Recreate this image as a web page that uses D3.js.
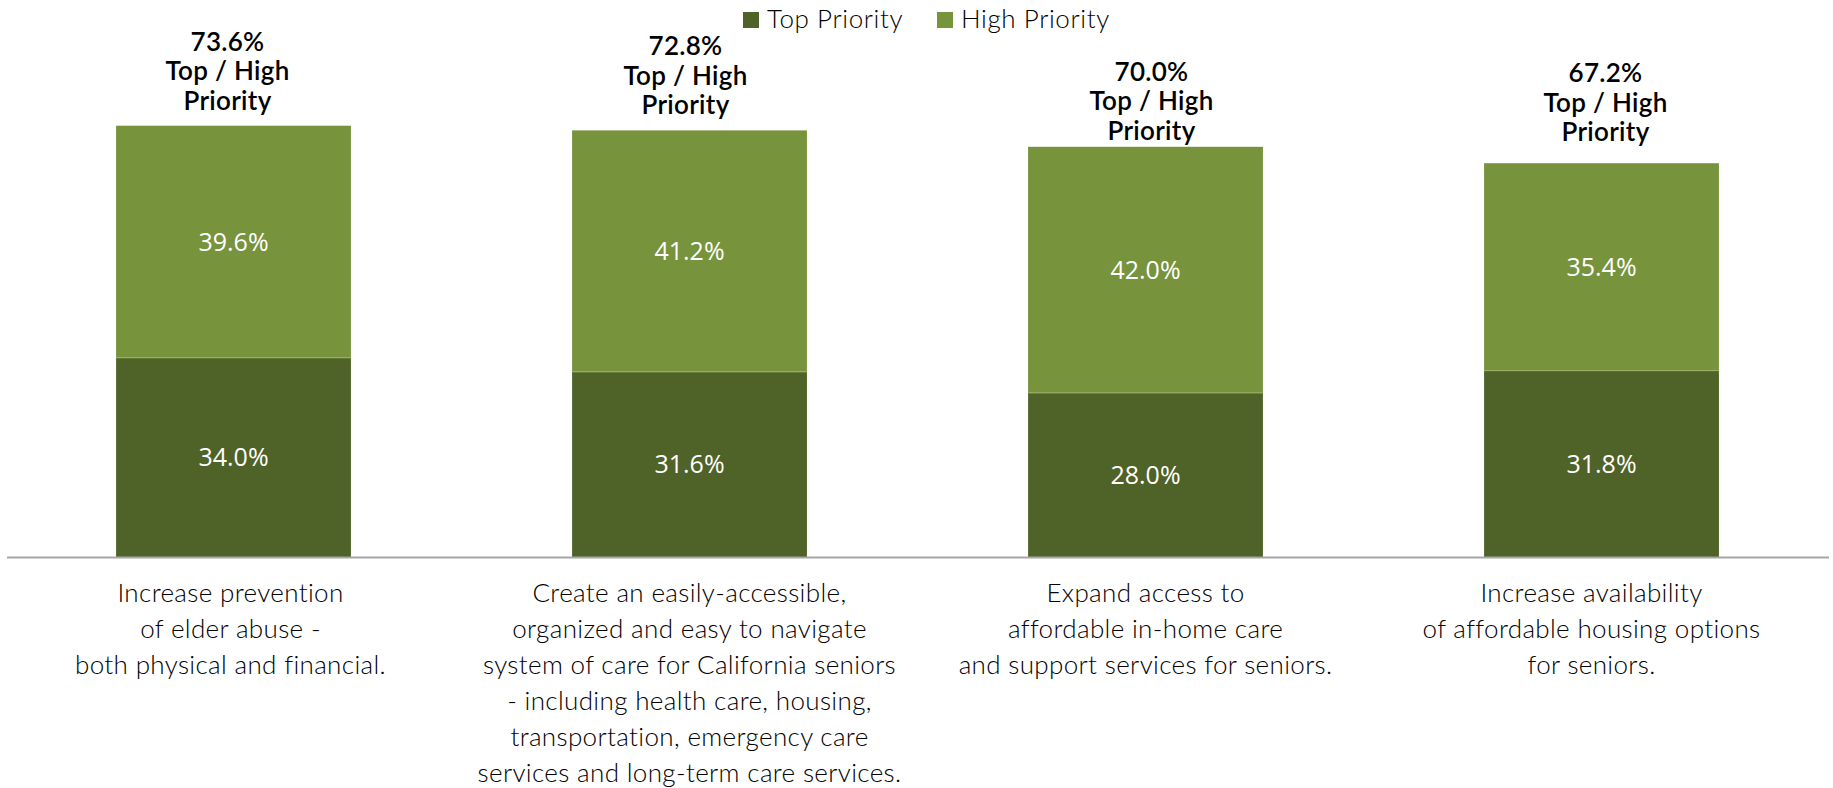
<!DOCTYPE html>
<html>
<head>
<meta charset="utf-8">
<script src="https://cdn.jsdelivr.net/npm/d3@7"></script>
<style>
  body { margin: 0; background: #fff; }
  svg { display: block; }
</style>
</head>
<body>
<svg id="chart" width="1833" height="788"></svg>
<script>

// Chart data
var categories = [
  "Increase prevention of elder abuse",
  "Create an easily-accessible system of care",
  "Expand access to in-home care",
  "Increase availability of affordable housing"
];
var categoryLines = [
  ["Increase prevention", "of elder abuse -", "both physical and financial."],
  ["Create an easily-accessible,", "organized and easy to navigate", "system of care for California seniors",
   "- including health care, housing,", "transportation, emergency care", "services and long-term care services."],
  ["Expand access to", "affordable in-home care", "and support services for seniors."],
  ["Increase availability", "of affordable housing options", "for seniors."]
];
var seriesNames = ["Top Priority", "High Priority"];
var topPriority = [34.0, 31.6, 28.0, 31.8];
var highPriority = [39.6, 41.2, 42.0, 35.4];
var totals = [73.6, 72.8, 70.0, 67.2];
var totalSuffix = ["Top / High", "Priority"];

var colors = ["#4F6228", "#77933C"];

var svg = d3.select("#chart"),
    width = +svg.attr("width"),
    height = +svg.attr("height");

var baseY = 557;

var x = d3.scaleBand()
    .domain(categories)
    .range([5.5, 1829.5])
    .paddingInner(0.485)
    .paddingOuter(0.2425);

var y = d3.scaleLinear()
    .domain([0, 80])
    .range([baseY, baseY - 80 * 5.86]);

// stack the two series
var rows = categories.map(function(c, i) {
  return {cat: c, "Top Priority": topPriority[i], "High Priority": highPriority[i]};
});
var stacked = d3.stack().keys(seriesNames)(rows);

var layers = svg.append("g").selectAll("g")
    .data(stacked)
    .enter().append("g")
    .attr("fill", function(d, i) { return colors[i]; });

layers.selectAll("rect")
    .data(function(d) { return d; })
    .enter().append("rect")
    .attr("x", function(d) { return x(d.data.cat); })
    .attr("y", function(d) { return y(d[1]); })
    .attr("width", x.bandwidth())
    .attr("height", function(d) { return y(d[0]) - y(d[1]); });

// thin light edge between the two segments
svg.append("g").selectAll("line")
    .data(stacked[0])
    .enter().append("line")
    .attr("x1", function(d) { return x(d.data.cat); })
    .attr("x2", function(d) { return x(d.data.cat) + x.bandwidth(); })
    .attr("y1", function(d) { return y(d[1]); })
    .attr("y2", function(d) { return y(d[1]); })
    .attr("stroke", "#9db36a")
    .attr("stroke-width", 1);

// value labels inside segments
layers.selectAll("text")
    .data(function(d) { return d; })
    .enter().append("text")
    .attr("x", function(d) { return x(d.data.cat) + x.bandwidth() / 2; })
    .attr("y", function(d) { return (y(d[0]) + y(d[1])) / 2; })
    .attr("dy", "0.36em")
    .attr("text-anchor", "middle")
    .attr("fill", "#fff")
    .attr("font-family", "'Open Sans', sans-serif")
    .attr("font-size", 25)
    .text(function(d) { return (d[1] - d[0]).toFixed(1) + "%"; });

// baseline axis
svg.append("line")
    .attr("x1", 7).attr("x2", 1829)
    .attr("y1", baseY + 0.5).attr("y2", baseY + 0.5)
    .attr("stroke", "#a6a6a6")
    .attr("stroke-width", 2);

// total labels above bars (hand placed in the original, nudged a bit)
var topShiftX = [-6, -4, 6, 4];
var topShiftY = [-75, -75, -66, -81];
var totalG = svg.append("g").selectAll("text")
    .data(categories)
    .enter().append("text")
    .attr("text-anchor", "middle")
    .attr("font-family", "Lato, sans-serif")
    .attr("font-weight", 600)
    .attr("font-size", 26)
    .attr("letter-spacing", 0.3)
    .attr("fill", "#000")
    .attr("transform", function(d, i) {
      return "translate(" + (x(d) + x.bandwidth() / 2 + topShiftX[i]) + "," + (y(totals[i]) + topShiftY[i]) + ")";
    });
totalG.selectAll("tspan")
    .data(function(d, i) { return [totals[i].toFixed(1) + "%"].concat(totalSuffix); })
    .enter().append("tspan")
    .attr("x", 0)
    .attr("y", function(d, j) { return j * 29.5; })
    .text(function(d) { return d; });

// category labels under the axis
var catShiftX = [-3, 0, 0, -10];
var catG = svg.append("g").selectAll("text")
    .data(categories)
    .enter().append("text")
    .attr("text-anchor", "middle")
    .attr("font-family", "Lato, sans-serif")
    .attr("font-weight", 300)
    .attr("font-size", 26)
    .attr("letter-spacing", 0.35)
    .attr("fill", "#000")
    .attr("transform", function(d, i) {
      return "translate(" + (x(d) + x.bandwidth() / 2 + catShiftX[i]) + ",602)";
    });
catG.selectAll("tspan")
    .data(function(d, i) { return categoryLines[i]; })
    .enter().append("tspan")
    .attr("x", 0)
    .attr("y", function(d, j) { return j * 36; })
    .text(function(d) { return d; });

// legend
var legend = svg.append("g").attr("transform", "translate(743,12)");
var legendX = [0, 194];
var item = legend.selectAll("g")
    .data(seriesNames)
    .enter().append("g")
    .attr("transform", function(d, i) { return "translate(" + legendX[i] + ",0)"; });
item.append("rect")
    .attr("width", 16).attr("height", 16)
    .attr("fill", function(d, i) { return colors[i]; });
item.append("text")
    .attr("x", 24).attr("y", 16)
    .attr("font-family", "Lato, sans-serif")
    .attr("font-weight", 300)
    .attr("font-size", 26)
    .attr("letter-spacing", 0.6)
    .attr("fill", "#000")
    .text(function(d) { return d; });

</script>
</body>
</html>
